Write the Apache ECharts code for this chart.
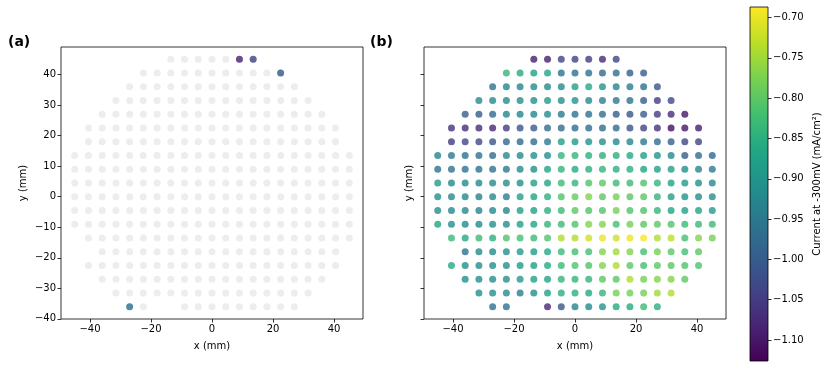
<!DOCTYPE html>
<html>
<head>
<meta charset="utf-8">
<script src="https://cdn.jsdelivr.net/npm/echarts@6/dist/echarts.min.js"></script>
<style>
  html, body { margin: 0; padding: 0; background: #fff; }
  #main { width: 830px; height: 368px; }
</style>
</head>
<body>
<div id="main"></div>
<script>
// wafer site positions (mm)
const xSites = [-45, -40.5, -36, -31.5, -27, -22.5, -18, -13.5, -9, -4.5, 0, 4.5, 9, 13.5, 18, 22.5, 27, 31.5, 36, 40.5, 45]
const ySites = [45, 40.5, 36, 31.5, 27, 22.5, 18, 13.5, 9, 4.5, 0, -4.5, -9, -13.5, -18, -22.5, -27, -31.5, -36]

// current at -300mV (mA/cm2), one row per ySites entry, null = no site
const _ = null
const currentRows = [
  [_, _, _, _, _, _, _, -1.09, -1.09, -1.04, -1.04, -1.05, -1.08, -1.04, _, _, _, _, _, _, _],
  [_, _, _, _, _, -0.84, -0.86, -0.88, -0.87, -0.96, -0.96, -0.96, -0.98, -0.97, -1.00, -1.00, _, _, _, _, _],
  [_, _, _, _, -0.96, -0.93, -0.93, -0.92, -0.92, -0.92, -0.88, -0.86, -0.90, -0.93, -0.94, -0.96, -1.01, _, _, _, _],
  [_, _, _, -0.92, -0.92, -0.92, -0.91, -0.91, -0.89, -0.91, -0.90, -0.92, -0.94, -0.95, -0.96, -1.00, -1.05, -1.03, _, _, _],
  [_, _, -1.00, -1.00, -0.98, -0.93, -0.93, -0.93, -0.92, -0.95, -0.96, -0.96, -0.97, -1.00, -1.01, -1.00, -1.05, -1.07, -1.10, _, _],
  [_, -1.06, -1.07, -1.07, -1.08, -1.05, -1.01, -1.00, -0.97, -0.97, -0.97, -0.97, -0.97, -0.97, -1.01, -1.04, -1.06, -1.11, -1.10, -1.09, _],
  [_, -1.05, -1.03, -1.03, -1.01, -0.98, -0.97, -0.97, -0.95, -0.88, -0.89, -0.90, -0.91, -0.92, -0.93, -0.95, -0.97, -0.99, -1.04, -1.04, _],
  [-0.93, -0.95, -0.96, -0.96, -0.97, -0.92, -0.92, -0.91, -0.91, -0.84, -0.84, -0.85, -0.85, -0.85, -0.86, -0.88, -0.90, -0.92, -1.00, -0.97, -0.98],
  [-0.96, -0.96, -0.96, -0.96, -0.96, -0.95, -0.92, -0.91, -0.87, -0.84, -0.86, -0.85, -0.84, -0.85, -0.85, -0.87, -0.88, -0.88, -0.91, -0.93, -0.95],
  [-0.89, -0.92, -0.92, -0.92, -0.92, -0.91, -0.91, -0.88, -0.87, -0.83, -0.84, -0.81, -0.80, -0.83, -0.83, -0.81, -0.84, -0.87, -0.89, -0.91, -0.92],
  [-0.91, -0.92, -0.92, -0.94, -0.92, -0.94, -0.88, -0.87, -0.85, -0.81, -0.79, -0.77, -0.80, -0.78, -0.80, -0.80, -0.84, -0.88, -0.90, -0.91, -0.91],
  [-0.91, -0.92, -0.92, -0.93, -0.92, -0.93, -0.88, -0.88, -0.85, -0.83, -0.80, -0.81, -0.81, -0.78, -0.81, -0.81, -0.84, -0.87, -0.88, -0.87, -0.89],
  [-0.87, -0.91, -0.91, -0.92, -0.91, -0.91, -0.88, -0.87, -0.84, -0.83, -0.81, -0.77, -0.77, -0.82, -0.78, -0.80, -0.80, -0.81, -0.83, -0.83, -0.83],
  [_, -0.83, -0.86, -0.83, -0.85, -0.81, -0.82, -0.83, -0.81, -0.74, -0.74, -0.72, -0.70, -0.72, -0.70, -0.69, -0.74, -0.73, -0.82, -0.77, -0.78],
  [_, _, -0.96, -0.92, -0.92, -0.91, -0.89, -0.89, -0.86, -0.83, -0.82, -0.82, -0.77, -0.75, -0.77, -0.82, -0.78, -0.80, -0.82, -0.80, _],
  [_, -0.86, -0.91, -0.91, -0.91, -0.91, -0.89, -0.88, -0.86, -0.83, -0.81, -0.81, -0.77, -0.74, -0.80, -0.82, -0.80, -0.80, -0.81, -0.81, _],
  [_, _, -0.91, -0.91, -0.91, -0.91, -0.89, -0.88, -0.87, -0.84, -0.84, -0.84, -0.80, -0.80, -0.74, -0.78, -0.77, -0.77, -0.80, _, _],
  [_, _, _, -0.91, -0.91, -0.92, -0.94, -0.91, -0.88, -0.85, -0.85, -0.86, -0.84, -0.78, -0.78, -0.78, -0.75, -0.74, _, _, _],
  [_, _, _, _, -0.96, -0.96, _, _, -1.08, -1.01, -0.93, -0.92, -0.90, -0.86, -0.86, -0.83, -0.85, _, _, _, _]
]

// sites picked out in colour on panel (a), [x, y] in mm
const highlightedSites = [[9, 45], [13.5, 45], [22.5, 40.5], [-27, -36]]

const xTicks = [-40, -20, 0, 20, 40]
const yTicks = [-40, -30, -20, -10, 0, 10, 20, 30, 40]
const cbarTicks = [-1.10, -1.05, -1.00, -0.95, -0.90, -0.85, -0.80, -0.75, -0.70]
const cbarMin = -1.126
const cbarMax = -0.687

const viridis = ['#440154', '#482475', '#414487', '#355f8d', '#2a788e', '#21918c',
  '#22a884', '#44bf70', '#7ad151', '#bddf26', '#fde725']

// build point lists
const allSites = []
const siteValues = []
currentRows.forEach((row, j) => {
  row.forEach((v, i) => {
    if (v === null) return
    allSites.push([xSites[i], ySites[j]])
    siteValues.push([xSites[i], ySites[j], v])
  })
})
const highlightData = highlightedSites.map(([x, y]) => {
  const v = currentRows[ySites.indexOf(y)][xSites.indexOf(x)]
  return [x, y, v]
})

const font = 'DejaVu Sans'
const minus = s => String(s).replace('-', '\u2212')
const tickStyle = ticks => ({ show: true, length: 3.5, customValues: ticks, lineStyle: { color: '#000', width: 0.8 } })

function xAxisFor (gi) {
  return {
    gridIndex: gi,
    type: 'value',
    min: -49.5,
    max: 49.5,
    name: 'x (mm)',
    nameLocation: 'middle',
    nameGap: 22,
    nameTextStyle: { fontFamily: font, fontSize: 10, color: '#000' },
    axisLine: { show: false, onZero: false },
    splitLine: { show: false },
    axisTick: tickStyle(xTicks),
    axisLabel: { customValues: xTicks, margin: 5, fontFamily: font, fontSize: 10, color: '#000', formatter: minus }
  }
}

function yAxisFor (gi, labels, gap) {
  return {
    gridIndex: gi,
    type: 'value',
    min: -40.05,
    max: 49.05,
    name: 'y (mm)',
    nameLocation: 'middle',
    nameGap: gap,
    nameTextStyle: { fontFamily: font, fontSize: 10, color: '#000' },
    axisLine: { show: false, onZero: false },
    splitLine: { show: false },
    axisTick: tickStyle(yTicks),
    axisLabel: { show: labels, customValues: yTicks, margin: 5, fontFamily: font, fontSize: 10, color: '#000', formatter: minus }
  }
}

const chart = echarts.init(document.getElementById('main'))
const option = {
  animation: false,
  title: [
    { text: '(a)', left: 8, top: 35, padding: 0, textStyle: { fontFamily: font, fontSize: 14, fontWeight: 'bold', color: '#000' } },
    { text: '(b)', left: 370, top: 35, padding: 0, textStyle: { fontFamily: font, fontSize: 14, fontWeight: 'bold', color: '#000' } }
  ],
  grid: [
    { left: 61, top: 47, width: 302, height: 272, show: true, borderColor: '#000', borderWidth: 0.8, backgroundColor: 'transparent' },
    { left: 424, top: 47, width: 302, height: 272, show: true, borderColor: '#000', borderWidth: 0.8, backgroundColor: 'transparent' },
    {
      // colorbar
      left: 750, top: 7, width: 18, height: 354, show: true, borderColor: '#000', borderWidth: 0.8,
      backgroundColor: {
        type: 'linear', x: 0, y: 0, x2: 0, y2: 1,
        colorStops: viridis.map((c, i) => ({ offset: i / (viridis.length - 1), color: viridis[viridis.length - 1 - i] }))
      }
    }
  ],
  xAxis: [
    xAxisFor(0),
    xAxisFor(1),
    { gridIndex: 2, type: 'value', show: false, min: 0, max: 1 }
  ],
  yAxis: [
    yAxisFor(0, true, 33),
    yAxisFor(1, false, 10),
    {
      gridIndex: 2,
      type: 'value',
      position: 'right',
      min: cbarMin,
      max: cbarMax,
      name: 'Current at -300mV (mA/cm²)',
      nameLocation: 'middle',
      nameRotate: 90,
      nameGap: 44,
      nameTextStyle: { fontFamily: font, fontSize: 10, color: '#000' },
      axisLine: { show: false, onZero: false },
      splitLine: { show: false },
      axisTick: tickStyle(cbarTicks),
      axisLabel: { customValues: cbarTicks, margin: 5, fontFamily: font, fontSize: 10, color: '#000', formatter: v => minus(v.toFixed(2)) }
    }
  ],
  visualMap: {
    type: 'continuous',
    show: false,
    min: cbarMin,
    max: cbarMax,
    dimension: 2,
    seriesIndex: [1, 2],
    inRange: { color: viridis }
  },
  series: [
    {
      type: 'scatter', xAxisIndex: 0, yAxisIndex: 0, silent: true,
      symbolSize: 7, itemStyle: { color: '#e8e8e8' },
      data: allSites
    },
    {
      type: 'scatter', xAxisIndex: 0, yAxisIndex: 0, silent: true,
      symbolSize: 7, itemStyle: { opacity: 0.8 },
      data: highlightData
    },
    {
      type: 'scatter', xAxisIndex: 1, yAxisIndex: 1, silent: true,
      symbolSize: 7, itemStyle: { opacity: 0.8 },
      data: siteValues
    }
  ]
}
chart.setOption(option)
</script>
</body>
</html>
